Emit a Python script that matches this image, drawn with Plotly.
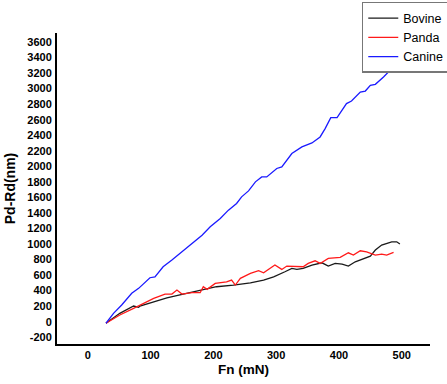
import plotly.graph_objects as go

canine_x = [29, 41, 54, 70, 81, 99, 107, 120, 134, 147, 158, 166, 182, 195, 211, 224, 237, 245, 256, 267, 277, 285, 301, 309, 317, 325, 341, 357, 370, 378, 387, 397, 412, 420, 434, 442, 450, 458, 471, 484, 492, 500]
canine_y = [-20, 108, 215, 365, 429, 566, 578, 707, 793, 879, 964, 1008, 1114, 1221, 1329, 1436, 1522, 1607, 1684, 1800, 1864, 1864, 1972, 1993, 2078, 2164, 2250, 2301, 2378, 2486, 2627, 2627, 2807, 2841, 2956, 2969, 3042, 3055, 3149, 3257, 3355, 3480]

bovine_x = [29, 51, 73, 81, 83, 105, 126, 152, 179, 205, 232, 259, 280, 296, 314, 325, 333, 343, 357, 373, 383, 394, 405, 415, 426, 439, 450, 458, 468, 484, 492, 497]
bovine_y = [-20, 108, 202, 185, 202, 257, 308, 356, 407, 450, 472, 500, 536, 578, 643, 686, 673, 686, 729, 758, 716, 750, 741, 716, 771, 815, 844, 922, 986, 1028, 1028, 999]

panda_x = [29, 51, 73, 89, 105, 123, 134, 142, 150, 166, 179, 184, 190, 203, 221, 229, 235, 243, 259, 272, 280, 298, 309, 317, 338, 343, 351, 362, 370, 383, 402, 415, 423, 434, 444, 458, 468, 476, 487]
panda_y = [-20, 86, 172, 236, 301, 356, 356, 407, 356, 373, 373, 450, 416, 493, 514, 536, 472, 558, 622, 656, 630, 729, 673, 716, 716, 707, 750, 784, 750, 815, 828, 887, 857, 913, 900, 857, 870, 857, 892]

x_ticks = [0, 100, 200, 300, 400, 500]
y_ticks = list(range(-200, 3601, 200))

fig = go.Figure()
fig.add_trace(go.Scatter(x=bovine_x, y=bovine_y, mode="lines", name="Bovine",
                         line=dict(color="#1a1a1a", width=1.3)))
fig.add_trace(go.Scatter(x=panda_x, y=panda_y, mode="lines", name="Panda",
                         line=dict(color="#ff1a1a", width=1.3)))
fig.add_trace(go.Scatter(x=canine_x, y=canine_y, mode="lines", name="Canine",
                         line=dict(color="#1a1aff", width=1.3)))

font_family = "Liberation Sans, Arial, sans-serif"
fig.update_layout(
    width=447, height=384,
    margin=dict(l=57, r=17, t=33, b=40, autoexpand=False),
    paper_bgcolor="white", plot_bgcolor="white",
    font=dict(family=font_family, color="black"),
    showlegend=True,
    legend=dict(x=1.053, y=1.10, xanchor="right", yanchor="top",
                bgcolor="white", bordercolor="#777777", borderwidth=1.5,
                font=dict(size=12.5, family=font_family), tracegroupgap=0,
                itemwidth=30),
    xaxis=dict(range=[-49, 545], tickvals=x_ticks, ticktext=[f"<b>{v}</b>" for v in x_ticks],
               showline=True, linecolor="black", linewidth=2, showgrid=False,
               zeroline=False, ticks="", tickfont=dict(size=11),
               title=dict(text="<b>Fn (mN)</b>", font=dict(size=13.5), standoff=4)),
    yaxis=dict(range=[-287, 3716], tickvals=y_ticks, ticktext=[f"<b>{v}</b>" for v in y_ticks],
               showline=True, linecolor="black", linewidth=2, showgrid=False,
               zeroline=False, ticks="", tickfont=dict(size=11), ticklabelstandoff=1,
               title=dict(text="<b>Pd-Rd(nm)</b>", font=dict(size=14), standoff=8)),
)

fig.write_html("out.html", config={"displayModeBar": False},
               post_script="document.body.style.margin='0px';")
